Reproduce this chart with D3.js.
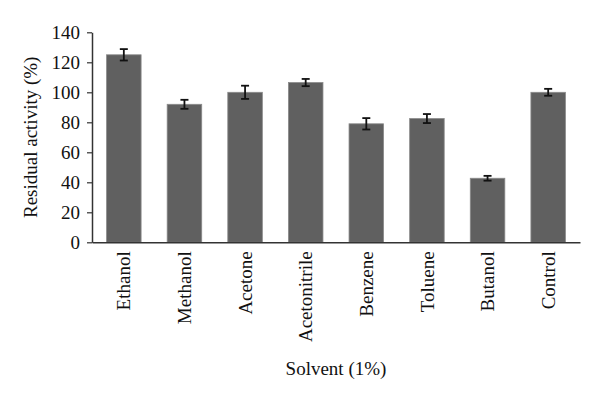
<!DOCTYPE html>
<html><head><meta charset="utf-8">
<script src="https://cdn.jsdelivr.net/npm/d3@7"></script>
<style>body{margin:0;background:#fff}svg{display:block}</style>
</head><body>
<svg id="c" width="600" height="403"></svg>
<script>
const categories = ["Ethanol","Methanol","Acetone","Acetonitrile","Benzene","Toluene","Butanol","Control"];
const values = [125, 92, 100, 106.5, 79, 82.5, 42.7, 100];
const errors = [3.8, 3, 4.4, 2.4, 3.8, 3, 1.6, 2.3];
const yTicks = [0,20,40,60,80,100,120,140];

const svg = d3.select("#c");
const font = "'Liberation Serif', 'DejaVu Serif', serif";
const mLeft = 92, mRight = 580, mTop = 32.3, mBottom = 242.3;

const x = d3.scaleBand().domain(categories).range([mLeft, mRight]).paddingInner(0.43).paddingOuter(0.24);
const y = d3.scaleLinear().domain([0,140]).range([mBottom, mTop]);

// bars
svg.append("g").selectAll("rect").data(categories).join("rect")
  .attr("x", d => x(d)).attr("width", x.bandwidth())
  .attr("y", (d,i) => y(values[i])).attr("height", (d,i) => mBottom - y(values[i]))
  .attr("fill", "#606060").attr("stroke", "#8a8a8a").attr("stroke-width", 0.8);

// error bars
const eg = svg.append("g").attr("stroke", "#111").attr("stroke-width", 1.8);
categories.forEach((c,i) => {
  const cx = x(c) + x.bandwidth()/2;
  const y1 = y(values[i] + errors[i]), y2 = y(values[i] - errors[i]);
  eg.append("line").attr("x1", cx).attr("x2", cx).attr("y1", y1).attr("y2", y2);
  eg.append("line").attr("x1", cx-4).attr("x2", cx+4).attr("y1", y1).attr("y2", y1);
  eg.append("line").attr("x1", cx-4).attr("x2", cx+4).attr("y1", y2).attr("y2", y2);
});

// y axis
const ya = svg.append("g").attr("transform", `translate(${mLeft},0)`)
  .call(d3.axisLeft(y).tickValues(yTicks).tickSize(5).tickPadding(7).tickSizeOuter(0));
ya.select(".domain").attr("stroke", "#333").attr("stroke-width", 1.5);
ya.selectAll(".tick line").attr("stroke", "#333").attr("stroke-width", 1.2);
ya.selectAll(".tick text").attr("font-family", font).attr("font-size", 19).attr("fill", "#111");

// x axis
const xa = svg.append("g").attr("transform", `translate(0,${mBottom})`)
  .call(d3.axisBottom(x).tickSize(0).tickSizeOuter(0));
xa.select(".domain").attr("stroke", "#333").attr("stroke-width", 1.5);
xa.selectAll(".tick text")
  .attr("font-family", font).attr("font-size", 19).attr("fill", "#111")
  .attr("text-anchor", "end").attr("transform", "rotate(-90)")
  .attr("x", -9).attr("y", 0).attr("dy", "0.35em");

// titles
svg.append("text").attr("transform", `translate(37,${(mTop+mBottom)/2}) rotate(-90)`)
  .attr("text-anchor", "middle").attr("font-family", font).attr("font-size", 19).attr("fill", "#111")
  .text("Residual activity (%)");
svg.append("text").attr("x", (mLeft+mRight)/2).attr("y", 375)
  .attr("text-anchor", "middle").attr("font-family", font).attr("font-size", 19).attr("fill", "#111")
  .text("Solvent (1%)");
</script>
</body></html>
